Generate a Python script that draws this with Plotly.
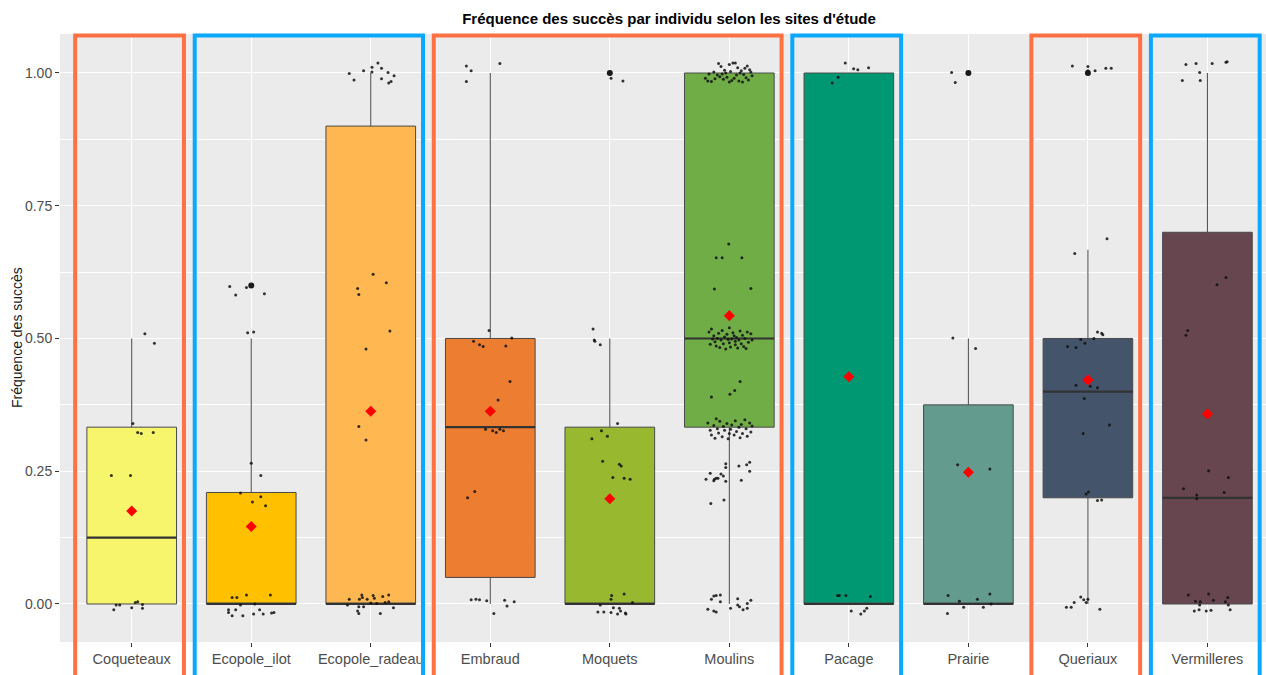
import plotly.graph_objects as go

# ---- site order and box statistics -------------------------------------
sites = ["Coqueteaux", "Ecopole_ilot", "Ecopole_radeau", "Embraud", "Moquets",
         "Moulins", "Pacage", "Prairie", "Queriaux", "Vermilleres"]
fill_colors = ["#F7F56C", "#FFC000", "#FFB751", "#ED7D31", "#97B82F",
               "#70AD47", "#009872", "#649B8F", "#44546A", "#674650"]
q1 = [0.0, 0.0, 0.0, 0.05, 0.0, 0.333, 0.0, 0.0, 0.2, 0.0]
median = [0.125, 0.0, 0.0, 0.333, 0.0, 0.5, 0.0, 0.0, 0.4, 0.2]
q3 = [0.333, 0.21, 0.9, 0.5, 0.333, 1.0, 1.0, 0.375, 0.5, 0.7]
lower_whisker = [0.0, 0.0, 0.0, 0.0, 0.0, 0.0, 0.0, 0.0, 0.0, 0.0]
upper_whisker = [0.5, 0.5, 1.0, 1.0, 0.5, 1.0, 1.0, 0.5, 0.667, 1.0]
means = [0.175, 0.146, 0.363, 0.363, 0.198, 0.543, 0.428, 0.248, 0.422, 0.358]

# outliers flagged by the boxplot
outlier_sites = ["Ecopole_ilot", "Moquets", "Prairie", "Queriaux"]
outlier_values = [0.6, 1.0, 1.0, 1.0]

# site groups framed on the panel (orange / blue alternation)
group_first = ["Coqueteaux", "Ecopole_ilot", "Embraud", "Pacage", "Queriaux", "Vermilleres"]
group_last = ["Coqueteaux", "Ecopole_radeau", "Moulins", "Pacage", "Queriaux", "Vermilleres"]
group_colors = ["#FF7043", "#0AA8FF", "#FF7043", "#0AA8FF", "#FF7043", "#0AA8FF"]

# ---- individual frequencies (horizontal jitter offset, value) ----------
pts_coqueteaux = [(0.11, 0.509), (0.19, 0.491), (0.01, 0.340), (0.05, 0.323), (0.08, 0.321),
                  (0.18, 0.323), (-0.17, 0.242), (-0.01, 0.242), (-0.15, -0.011), (-0.13, -0.002),
                  (-0.10, -0.002), (0.00, -0.007), (0.03, 0.003), (0.05, 0.004), (0.09, -0.001),
                  (0.09, -0.008)]
pts_ecopole_ilot = [(-0.18, 0.598), (-0.13, 0.582), (-0.04, 0.596), (0.11, 0.584), (-0.03, 0.511),
                    (0.02, 0.512), (0.00, 0.265), (0.08, 0.242), (-0.09, 0.209), (0.01, 0.192),
                    (0.08, 0.202), (0.12, 0.185), (-0.16, 0.012), (-0.12, 0.012), (-0.04, 0.017),
                    (0.16, 0.017), (-0.19, -0.011), (-0.19, -0.016), (-0.16, -0.022), (-0.13, -0.011),
                    (-0.07, -0.022), (0.02, -0.019), (0.07, -0.011), (0.10, -0.019), (0.17, -0.017),
                    (0.19, -0.016), (-0.09, -0.002), (0.03, 0.000)]
pts_ecopole_radeau = [(-0.18, 0.999), (-0.14, 0.987), (-0.06, 1.004), (0.01, 1.011), (0.01, 1.002),
                      (0.06, 1.019), (0.09, 1.009), (0.09, 0.989), (0.145, 1.001), (0.15, 0.981),
                      (0.17, 0.984), (0.195, 0.995), (0.02, 0.621), (0.13, 0.605), (-0.11, 0.594),
                      (-0.10, 0.583), (0.16, 0.514), (-0.04, 0.480), (-0.10, 0.334), (-0.04, 0.309),
                      (-0.18, 0.009), (-0.075, 0.017), (-0.095, 0.009), (-0.03, 0.009), (0.02, 0.016),
                      (0.03, 0.011), (0.10, 0.014), (0.15, 0.017), (0.15, 0.004), (-0.195, -0.002),
                      (-0.10, -0.005), (-0.06, -0.005), (-0.11, -0.013), (-0.10, -0.018), (0.08, -0.018),
                      (0.19, -0.007), (0.05, 0.001), (0.00, 0.002), (-0.07, 0.012), (0.12, 0.003)]
pts_embraud = [(-0.20, 1.013), (-0.16, 1.004), (-0.20, 0.984), (0.08, 1.018), (-0.01, 0.515),
               (-0.14, 0.495), (-0.09, 0.488), (-0.06, 0.485), (0.13, 0.486), (0.18, 0.501),
               (0.165, 0.419), (0.065, 0.384), (-0.04, 0.329), (0.02, 0.326), (0.05, 0.323),
               (0.08, 0.329), (0.11, 0.326), (-0.19, 0.200), (-0.13, 0.212), (-0.16, 0.008),
               (-0.12, 0.009), (-0.09, 0.008), (-0.03, 0.006), (0.12, 0.007), (0.20, 0.004),
               (0.14, -0.004), (0.03, -0.018)]
pts_moquets = [(0.01, 0.990), (0.11, 0.985), (-0.14, 0.518), (-0.13, 0.497), (-0.125, 0.495),
               (-0.08, 0.488), (0.065, 0.340), (-0.07, 0.326), (-0.02, 0.316), (-0.15, 0.311),
               (-0.06, 0.269), (0.08, 0.263), (0.095, 0.260), (0.025, 0.238), (0.12, 0.237),
               (0.17, 0.235), (0.015, 0.016), (0.01, 0.009), (0.12, 0.019), (0.19, 0.003),
               (-0.08, -0.002), (-0.10, -0.015), (-0.05, -0.015), (0.01, -0.016), (0.03, -0.007),
               (0.08, -0.008), (0.065, -0.019), (0.13, -0.017), (0.135, -0.019), (0.09, -0.013)]
pts_moulins = [
    # around 1
    (-0.09, 1.018), (-0.07, 1.012), (-0.04, 1.005), (-0.06, 0.998), (0.00, 1.016), (0.03, 1.019),
    (0.05, 1.019), (0.07, 1.010), (0.10, 1.004), (0.13, 1.009), (0.15, 1.013), (0.17, 1.006),
    (0.18, 1.002), (0.19, 0.995), (-0.20, 0.990), (-0.18, 0.985), (-0.15, 0.984), (-0.12, 0.989),
    (-0.10, 0.996), (-0.08, 0.993), (-0.05, 0.988), (-0.02, 0.992), (0.00, 0.983), (0.02, 0.986),
    (0.04, 0.990), (0.06, 0.996), (0.08, 0.985), (0.11, 0.983), (0.14, 0.991), (0.16, 0.987),
    (-0.13, 1.002), (-0.03, 1.000), (0.09, 1.000), (0.12, 0.997), (-0.17, 0.998), (0.01, 1.003),
    # between 0.6 and 0.7
    (-0.005, 0.678), (-0.11, 0.652), (-0.06, 0.652), (0.105, 0.652), (-0.125, 0.593), (0.18, 0.594),
    # around 0.5
    (-0.17, 0.512), (-0.15, 0.518), (-0.13, 0.505), (-0.12, 0.494), (-0.11, 0.486), (-0.10, 0.500),
    (-0.09, 0.510), (-0.08, 0.483), (-0.07, 0.497), (-0.06, 0.515), (-0.05, 0.490), (-0.04, 0.503),
    (-0.03, 0.480), (-0.02, 0.508), (0.00, 0.520), (0.00, 0.492), (0.01, 0.484), (0.02, 0.499),
    (0.03, 0.511), (0.04, 0.505), (0.05, 0.488), (0.05, 0.495), (0.06, 0.502), (0.07, 0.482),
    (0.08, 0.497), (0.09, 0.514), (0.10, 0.490), (0.11, 0.506), (0.12, 0.485), (0.13, 0.500),
    (0.15, 0.512), (0.16, 0.493), (0.18, 0.509), (0.19, 0.497), (-0.16, 0.489), (-0.01, 0.498),
    (0.14, 0.481), (-0.14, 0.499),
    # around 0.4
    (0.09, 0.419), (0.045, 0.402), (0.005, 0.395), (-0.15, 0.390),
    # around 1/3
    (-0.18, 0.341), (-0.16, 0.327), (-0.15, 0.318), (-0.13, 0.336), (-0.12, 0.312), (-0.10, 0.330),
    (-0.09, 0.322), (-0.08, 0.344), (-0.06, 0.315), (-0.05, 0.334), (-0.04, 0.327), (-0.02, 0.340),
    (-0.01, 0.311), (0.01, 0.329), (0.02, 0.337), (0.04, 0.318), (0.05, 0.345), (0.06, 0.325),
    (0.08, 0.333), (0.09, 0.313), (0.10, 0.338), (0.11, 0.321), (0.13, 0.347), (0.14, 0.330),
    (0.15, 0.316), (0.17, 0.341), (0.18, 0.324), (0.19, 0.335), (-0.11, 0.349), (0.00, 0.321),
    # around 0.25
    (-0.03, 0.264), (-0.03, 0.257), (0.08, 0.260), (0.145, 0.262), (0.17, 0.267), (0.17, 0.250),
    (-0.16, 0.246), (-0.07, 0.245), (-0.05, 0.241), (-0.195, 0.235), (-0.125, 0.235), (-0.11, 0.237),
    (-0.095, 0.237), (-0.13, 0.232), (-0.03, 0.231), (0.10, 0.233), (-0.045, 0.196), (-0.155, 0.189),
    # around 0
    (-0.075, 0.017), (-0.11, 0.016), (-0.13, 0.015), (-0.15, 0.009), (-0.075, 0.004), (0.07, 0.010),
    (0.18, 0.007), (-0.18, -0.010), (-0.13, -0.013), (-0.11, -0.015), (0.01, -0.008), (0.07, -0.002),
    (0.085, -0.005), (0.115, -0.011), (0.15, -0.008), (0.15, 0.001)]
pts_pacage = [(-0.03, 1.019), (0.04, 1.008), (0.075, 1.006), (0.165, 1.010), (-0.09, 0.992),
              (-0.14, 0.981), (0.18, 0.014), (-0.095, 0.016), (-0.08, 0.016), (-0.025, 0.016),
              (0.02, -0.013), (0.10, -0.019), (0.13, -0.013), (0.15, -0.008)]
pts_prairie = [(-0.14, 1.001), (-0.11, 0.982), (-0.13, 0.501), (0.06, 0.481), (-0.09, 0.262),
               (0.18, 0.254), (-0.17, 0.016), (-0.075, 0.005), (-0.04, -0.006), (0.075, 0.009),
               (0.18, 0.019), (0.19, 0.000), (0.125, -0.006), (-0.175, -0.018)]
pts_queriaux = [(-0.13, 1.013), (0.00, 1.012), (0.00, 1.004), (0.06, 1.004), (0.15, 1.009),
                (0.195, 1.009), (0.16, 0.688), (-0.11, 0.660), (0.08, 0.512), (0.115, 0.510),
                (0.125, 0.507), (0.05, 0.500), (-0.06, 0.498), (-0.025, 0.491), (-0.17, 0.485),
                (-0.10, 0.483), (-0.10, 0.412), (0.02, 0.410), (0.08, 0.407), (-0.03, 0.387),
                (0.18, 0.337), (-0.04, 0.321), (0.005, 0.211), (-0.015, 0.207), (0.08, 0.195),
                (0.115, 0.196), (-0.18, -0.006), (-0.14, -0.006), (-0.115, 0.003), (-0.06, 0.013),
                (-0.035, 0.008), (-0.015, 0.003), (0.00, 0.009), (0.10, -0.010)]
pts_vermilleres = [(-0.18, 1.016), (-0.095, 1.018), (0.04, 1.018), (0.155, 1.020), (0.165, 1.021),
                   (-0.065, 1.001), (-0.21, 0.986), (-0.06, 0.986), (0.155, 0.615), (0.08, 0.601),
                   (-0.165, 0.515), (-0.18, 0.506), (0.01, 0.251), (0.175, 0.238), (-0.20, 0.217),
                   (-0.09, 0.205), (-0.09, 0.198), (0.14, 0.210), (-0.16, 0.017), (0.01, 0.019),
                   (-0.10, 0.005), (-0.06, 0.004), (0.05, 0.007), (0.17, 0.012), (0.15, 0.004),
                   (-0.065, -0.002), (0.175, -0.002), (-0.11, -0.013), (-0.07, -0.011),
                   (-0.01, -0.013), (0.03, -0.012), (0.19, -0.011)]

site_points = [pts_coqueteaux, pts_ecopole_ilot, pts_ecopole_radeau, pts_embraud, pts_moquets,
               pts_moulins, pts_pacage, pts_prairie, pts_queriaux, pts_vermilleres]

y_ticks = [0.0, 0.25, 0.5, 0.75, 1.0]
y_minor = [0.125, 0.375, 0.625, 0.875]

# ---- geometry ---------------------------------------------------------
BOX_WIDTH = 0.75
FRAME_HALF = 0.455
FRAME_SHIFT = -0.018
X_RANGE = [0.4, 10.49]
Y_RANGE = [-0.0716, 1.0734]
FONT = "Liberation Sans, Arial, sans-serif"

positions = list(range(1, len(sites) + 1))
pos_of = dict(zip(sites, positions))

fig = go.Figure()

# boxes (precomputed statistics)
for p, name, col, a, m, b, lo, hi in zip(positions, sites, fill_colors, q1, median, q3,
                                         lower_whisker, upper_whisker):
    fig.add_trace(go.Box(
        x=[p], q1=[a], median=[m], q3=[b], lowerfence=[lo], upperfence=[hi],
        orientation="v", width=BOX_WIDTH, whiskerwidth=0, boxpoints=False,
        fillcolor=col, line=dict(color="#4A4A4A", width=1.0),
        name=name, showlegend=False, hoverinfo="skip"))

# thicker median bars, as in ggplot boxplots
mx, my = [], []
for p, m in zip(positions, median):
    mx += [p - BOX_WIDTH / 2, p + BOX_WIDTH / 2, None]
    my += [m, m, None]
fig.add_trace(go.Scatter(x=mx, y=my, mode="lines", line=dict(color="#333333", width=2.2),
                         showlegend=False, hoverinfo="skip"))

# outliers
fig.add_trace(go.Scatter(x=[pos_of[s] for s in outlier_sites], y=outlier_values, mode="markers",
                         marker=dict(color="#1a1a1a", size=6), showlegend=False, hoverinfo="skip"))

# jittered individual points
jx, jy = [], []
for p, pts in zip(positions, site_points):
    for dx, v in pts:
        jx.append(p + dx)
        jy.append(v)
fig.add_trace(go.Scatter(x=jx, y=jy, mode="markers",
                         marker=dict(color="#111111", size=3, opacity=0.85),
                         showlegend=False, hoverinfo="skip"))

# means
fig.add_trace(go.Scatter(x=positions, y=means, mode="markers",
                         marker=dict(symbol="diamond", color="#FF0000", size=8.5),
                         showlegend=False, hoverinfo="skip"))


def x_domain(v):
    return (v - X_RANGE[0]) / (X_RANGE[1] - X_RANGE[0])


shapes = []
for first, last, col in zip(group_first, group_last, group_colors):
    shapes.append(dict(
        type="rect", xref="x domain", yref="paper",
        x0=x_domain(pos_of[first] - FRAME_HALF + FRAME_SHIFT),
        x1=x_domain(pos_of[last] + FRAME_HALF + FRAME_SHIFT),
        y0=-0.12, y1=0.9975, line=dict(color=col, width=4), fillcolor="rgba(0,0,0,0)",
        layer="above"))

fig.update_layout(
    width=1266, height=675,
    margin=dict(l=60, r=0, t=34, b=33),
    paper_bgcolor="white", plot_bgcolor="#EBEBEB",
    font=dict(family=FONT, color="#4D4D4D", size=14),
    title=dict(text="<b>Fréquence des succès par individu selon les sites d'étude</b>",
               x=669 / 1266, xanchor="center", y=1 - 19 / 675, yanchor="middle",
               font=dict(family=FONT, size=15, color="#000000")),
    showlegend=False,
    boxmode="overlay",
    shapes=shapes,
    annotations=[dict(text="Fréquence des succès", textangle=-90, xref="paper", yref="paper",
                      x=(17 - 60) / 1206, y=0.5, xanchor="center", yanchor="middle",
                      showarrow=False, font=dict(family=FONT, size=14, color="#1A1A1A"))],
)

fig.update_xaxes(
    range=X_RANGE, tickmode="array", tickvals=positions, ticktext=sites,
    showgrid=True, gridcolor="#FFFFFF", gridwidth=1.3, zeroline=False,
    ticks="outside", ticklen=4, tickcolor="#333333", tickwidth=1,
    tickfont=dict(size=14.5, color="#4D4D4D"), showline=False, fixedrange=True)
fig.update_yaxes(
    range=Y_RANGE, tickmode="array", tickvals=y_ticks, tickformat=".2f",
    showgrid=True, gridcolor="#FFFFFF", gridwidth=1.3, zeroline=False,
    ticks="outside", ticklen=4, tickcolor="#333333", tickwidth=1,
    tickfont=dict(size=14, color="#4D4D4D"), showline=False,
    minor=dict(tickvals=y_minor, showgrid=True, gridcolor="#FFFFFF", gridwidth=0.6, ticks=""))

fig.write_html("out.html")
